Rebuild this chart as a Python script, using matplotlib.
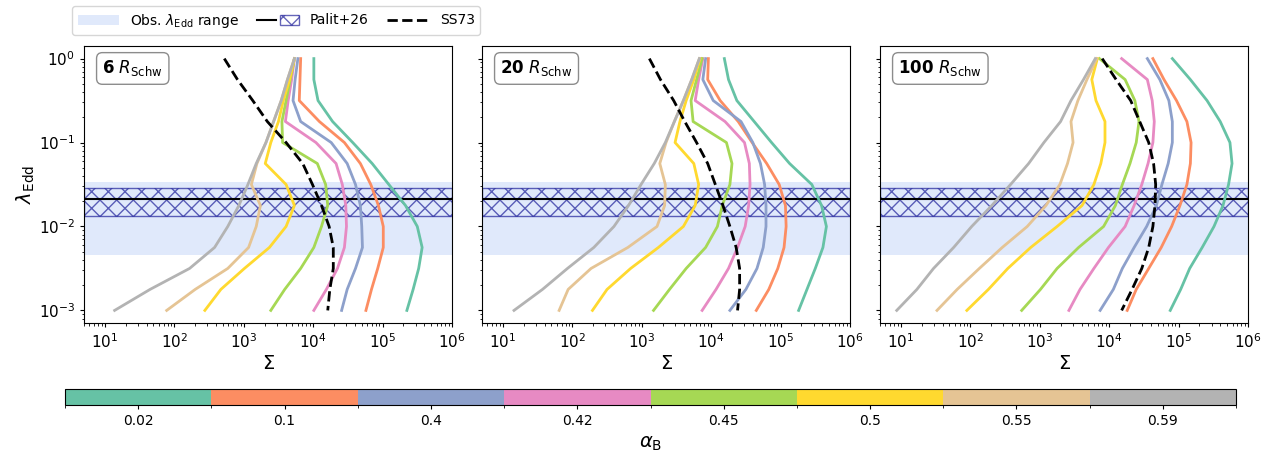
import numpy as np
import matplotlib
matplotlib.use("Agg")
import matplotlib.pyplot as plt
from matplotlib.colors import ListedColormap, BoundaryNorm
from matplotlib.patches import Patch
from matplotlib.lines import Line2D
from matplotlib.legend_handler import HandlerTuple
import matplotlib.colorbar as mcolorbar

# alpha_B values and their colours (Set2)
alpha_vals = ["0.02", "0.1", "0.4", "0.42", "0.45", "0.5", "0.55", "0.59"]
colores = ["#66c2a5", "#fc8d62", "#8da0cb", "#e78ac3",
           "#a6d854", "#ffd92f", "#e5c494", "#b3b3b3"]

# common grid in log10(lambda_Edd), from 1 down to 1e-3
log_lam = [0.0, -0.25, -0.5, -0.75, -1.0, -1.25, -1.5,
           -1.75, -2.0, -2.25, -2.5, -2.75, -3.0]

radios = ["6", "20", "100"]

# log10(Sigma) for each alpha_B, per radius
log_sigma_6 = [
    [4.01, 4.01, 4.07, 4.28, 4.57, 4.85, 5.09, 5.33, 5.50, 5.57, 5.52, 5.44, 5.35],
    [3.82, 3.81, 3.80, 4.09, 4.45, 4.68, 4.83, 4.94, 5.01, 5.01, 4.93, 4.84, 4.76],
    [3.78, 3.74, 3.71, 3.82, 4.26, 4.49, 4.61, 4.68, 4.70, 4.71, 4.61, 4.49, 4.41],
    [3.73, 3.69, 3.64, 3.60, 4.04, 4.33, 4.42, 4.47, 4.48, 4.45, 4.35, 4.19, 4.01],
    [3.73, 3.67, 3.61, 3.55, 3.56, 4.06, 4.18, 4.21, 4.12, 4.01, 3.82, 3.59, 3.39],
    [3.73, 3.66, 3.57, 3.50, 3.39, 3.31, 3.61, 3.73, 3.61, 3.37, 3.01, 2.67, 2.44],
    [3.73, 3.63, 3.54, 3.43, 3.32, 3.19, 3.11, 3.24, 3.18, 3.07, 2.77, 2.30, 1.89],
    [3.73, 3.63, 3.54, 3.43, 3.32, 3.18, 3.06, 2.93, 2.77, 2.58, 2.22, 1.65, 1.14],
]
log_sigma_20 = [
    [4.19, 4.25, 4.37, 4.62, 4.87, 5.13, 5.45, 5.59, 5.66, 5.61, 5.50, 5.38, 5.26],
    [3.96, 3.95, 4.13, 4.39, 4.59, 4.80, 4.98, 5.07, 5.08, 5.05, 4.96, 4.83, 4.65],
    [3.92, 3.88, 4.03, 4.43, 4.60, 4.71, 4.77, 4.79, 4.79, 4.75, 4.66, 4.50, 4.27],
    [3.88, 3.82, 3.77, 4.20, 4.48, 4.55, 4.56, 4.54, 4.49, 4.38, 4.25, 4.07, 3.87],
    [3.87, 3.79, 3.71, 3.74, 4.22, 4.30, 4.27, 4.16, 4.09, 3.92, 3.64, 3.40, 3.17],
    [3.84, 3.75, 3.64, 3.55, 3.48, 3.75, 3.82, 3.77, 3.60, 3.24, 2.84, 2.50, 2.29],
    [3.83, 3.72, 3.60, 3.47, 3.35, 3.26, 3.34, 3.33, 3.22, 2.80, 2.27, 1.94, 1.81],
    [3.83, 3.72, 3.60, 3.47, 3.34, 3.18, 2.99, 2.81, 2.60, 2.31, 1.93, 1.57, 1.16],
]
log_sigma_100 = [
    [4.91, 5.17, 5.41, 5.60, 5.74, 5.77, 5.72, 5.64, 5.51, 5.34, 5.16, 5.03, 4.88],
    [4.63, 4.79, 4.97, 5.12, 5.18, 5.17, 5.12, 5.02, 4.90, 4.75, 4.57, 4.39, 4.26],
    [4.55, 4.73, 4.86, 4.91, 4.91, 4.85, 4.76, 4.68, 4.54, 4.36, 4.19, 4.06, 3.87],
    [4.18, 4.55, 4.62, 4.65, 4.63, 4.56, 4.47, 4.36, 4.23, 3.99, 3.78, 3.58, 3.42],
    [3.86, 4.23, 4.37, 4.43, 4.39, 4.30, 4.19, 4.09, 3.92, 3.56, 3.25, 3.01, 2.74],
    [3.83, 3.75, 3.81, 3.94, 3.94, 3.88, 3.78, 3.61, 3.25, 2.87, 2.54, 2.26, 1.95],
    [3.82, 3.68, 3.55, 3.45, 3.48, 3.40, 3.29, 3.09, 2.82, 2.46, 2.13, 1.81, 1.52],
    [3.80, 3.63, 3.45, 3.30, 3.06, 2.84, 2.58, 2.31, 2.02, 1.76, 1.47, 1.23, 0.94],
]
log_sigma = [log_sigma_6, log_sigma_20, log_sigma_100]

# Shakura & Sunyaev (1973) reference curve, log10(Sigma)
ss73_6 = [2.72, 2.91, 3.13, 3.34, 3.61, 3.85, 3.99, 4.12, 4.23, 4.29, 4.29, 4.24, 4.21]
ss73_20 = [3.11, 3.27, 3.46, 3.62, 3.79, 3.95, 4.06, 4.17, 4.27, 4.36, 4.41, 4.41, 4.38]
ss73_100 = [3.90, 4.10, 4.31, 4.44, 4.57, 4.64, 4.67, 4.66, 4.63, 4.57, 4.47, 4.33, 4.18]
ss73 = [ss73_6, ss73_20, ss73_100]

# observed range and Palit+26 estimate of lambda_Edd
obs_min, obs_max = 0.0046, 0.034
palit_val, palit_min, palit_max = 0.0214, 0.0134, 0.029

W, H = 1268, 458
fig = plt.figure(figsize=(W / 100, H / 100), dpi=100)

lam = 10 ** np.array(log_lam)
izq = [84, 482, 880]
ejes = []
for k in range(3):
    ax = fig.add_axes([izq[k] / W, 1 - 323 / H, 368 / W, 277 / H])
    ejes.append(ax)
    ax.axhspan(obs_min, obs_max, color="cornflowerblue", alpha=0.2, lw=0, zorder=0)
    ax.axhspan(palit_min, palit_max, facecolor="none", edgecolor="darkblue",
               hatch="xx", alpha=0.6, lw=1, zorder=1)
    ax.axhline(palit_val, color="black", lw=1.5, zorder=2)
    for i in range(len(alpha_vals)):
        ax.plot(10 ** np.array(log_sigma[k][i]), lam, color=colores[i], lw=2, zorder=3)
    ax.plot(10 ** np.array(ss73[k]), lam, color="black", ls="--", lw=2, zorder=4)
    ax.set_xscale("log")
    ax.set_yscale("log")
    ax.set_xlim(5, 1e6)
    ax.set_ylim(10 ** -3.15, 10 ** 0.15)
    ax.set_xlabel(r"$\Sigma$", fontsize=14, labelpad=2)
    ax.tick_params(which="major", length=3, labelsize=11)
    ax.tick_params(which="minor", length=1.8)
    ax.text(0.05, 0.955, r"$\mathbf{" + radios[k] + r"}\ R_{\rm Schw}$",
            transform=ax.transAxes, fontsize=12, va="top", ha="left",
            bbox=dict(boxstyle="round,pad=0.35", fc="white", ec="gray", alpha=0.9))
    if k > 0:
        ax.tick_params(axis="y", which="both", labelleft=False)
ejes[0].set_ylabel(r"$\lambda_{\rm Edd}$", fontsize=14, labelpad=1)

# legend
h_obs = Patch(facecolor="cornflowerblue", alpha=0.2, edgecolor="none")
h_line = Line2D([], [], color="black", lw=1.5)
h_hatch = Patch(facecolor="none", edgecolor="darkblue", hatch="xx", alpha=0.6)
h_ss = Line2D([], [], color="black", ls="--", lw=2)
fig.legend([h_obs, (h_line, h_hatch), h_ss],
           [r"Obs. $\lambda_{\rm Edd}$ range", "Palit+26", "SS73"],
           handler_map={tuple: HandlerTuple(ndivide=None, pad=0.3)},
           loc="upper left", bbox_to_anchor=(65 / W, 1 + 1 / H), ncol=3,
           handlelength=3, fontsize=10, columnspacing=1.3)

# discrete colorbar
cax = fig.add_axes([65 / W, 1 - 405 / H, 1171 / W, 16 / H])
cmap = ListedColormap(colores)
norm = BoundaryNorm(np.arange(len(colores) + 1), cmap.N)
cb = mcolorbar.ColorbarBase(cax, cmap=cmap, norm=norm, orientation="horizontal")
cb.set_ticks(np.arange(len(colores)) + 0.5)
cb.set_ticklabels(alpha_vals)
cax.set_xticks(np.arange(len(colores) + 1), minor=True)
cax.tick_params(which="major", length=3)
cax.tick_params(which="minor", length=2)
cb.set_label(r"$\alpha_{\rm B}$", fontsize=14)

plt.savefig("out.png", dpi=100)
plt.close()
